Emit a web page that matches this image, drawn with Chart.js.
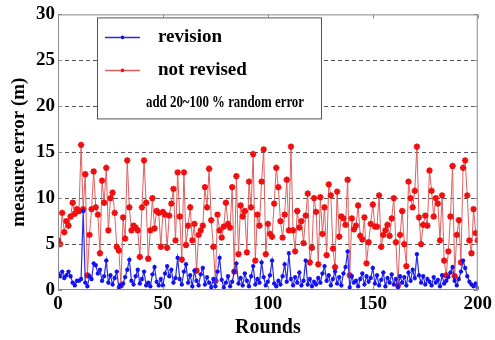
<!DOCTYPE html>
<html><head><meta charset="utf-8">
<script src="https://cdn.jsdelivr.net/npm/chart.js@4.4.1/dist/chart.umd.min.js"></script>
<style>html,body{margin:0;padding:0;background:#fff;}canvas{display:block;}</style>
</head><body>
<canvas id="c" width="495" height="340"></canvas>
<script>
const seriesNames = ["revision", "not revised"];
const noteText = "add 20~100 % random error";
const xTicks = [0, 50, 100, 150, 200];
const yTicks = [0, 5, 10, 15, 20, 25, 30];
const revision = [1.8,1.5,2.0,1.3,1.6,2.0,1.5,0.8,0.5,1.0,1.0,1.2,8.6,0.8,0.4,1.5,1.2,2.9,2.7,1.8,2.2,1.0,1.5,3.2,0.8,1.6,0.6,1.3,2.0,0.3,0.5,0.7,1.4,2.2,3.3,1.0,0.6,1.5,2.2,0.7,1.2,2.0,0.5,0.8,0.4,1.7,2.5,0.9,0.5,1.2,0.5,1.8,2.6,1.5,2.2,0.8,1.3,3.5,1.2,0.6,2.0,2.8,0.8,1.6,0.4,2.1,1.0,0.5,1.7,2.4,0.6,1.4,0.8,0.3,1.2,0.4,2.0,3.5,1.1,0.3,0.8,1.5,0.4,0.9,2.0,2.9,0.7,1.3,0.5,1.8,1.0,0.4,1.5,2.6,0.6,1.2,0.8,3.0,1.4,0.5,0.9,1.6,3.2,0.7,0.4,1.0,0.6,1.5,2.8,0.9,4.0,1.2,0.5,1.4,0.8,1.9,0.5,1.0,3.2,0.6,1.2,0.4,0.9,0.6,1.3,0.8,1.8,2.6,1.0,1.6,0.5,1.2,2.0,0.7,1.4,0.5,1.8,2.5,4.2,0.3,1.5,0.8,1.0,0.4,1.2,1.8,0.6,1.5,0.9,1.3,2.4,0.7,1.6,0.5,1.1,1.9,0.4,1.3,0.8,1.7,0.6,1.2,0.3,1.5,0.8,1.4,0.5,1.9,1.0,2.2,1.3,3.9,1.6,0.8,1.5,0.6,1.2,0.9,0.5,1.4,0.8,1.1,0.4,1.6,0.7,1.0,1.4,1.9,2.5,1.0,0.5,1.2,2.0,3.2,2.4,1.5,0.9,0.6,0.4,0.7,0.3];
const notRevised = [5.4,5.0,8.4,6.3,7.5,7.0,8.0,9.5,8.3,8.8,8.6,15.8,8.8,12.6,1.6,6.0,8.8,12.9,9.0,8.2,4.0,11.9,9.5,13.3,6.5,10.0,10.6,8.4,4.7,4.3,0.5,7.9,5.6,14.1,9.0,6.5,7.0,6.8,6.5,3.6,9.0,14.1,9.5,3.4,6.5,10.0,6.7,8.6,8.4,4.7,8.5,8.2,4.6,8.1,9.4,11.0,5.4,12.8,8.0,3.3,12.8,4.9,7.0,9.0,5.4,7.2,2.1,6.0,6.5,7.0,11.2,9.0,13.2,7.6,4.7,1.0,8.2,6.5,5.7,6.9,9.5,7.2,6.8,11.2,2.0,12.4,3.9,9.2,8.0,8.6,4.1,11.8,9.0,14.8,3.2,8.2,7.0,11.8,15.3,3.9,7.2,6.1,5.8,9.4,13.3,11.2,7.5,5.7,8.2,12.0,6.5,15.6,6.5,4.2,8.6,6.8,7.5,5.1,8.1,10.5,3.0,4.6,10.0,8.5,2.8,10.1,6.1,9.0,3.8,11.5,10.3,4.5,2.5,10.7,5.8,8.0,7.8,7.1,12.0,1.6,7.8,6.6,7.0,9.2,5.9,5.5,7.9,2.9,5.2,7.2,9.3,6.9,6.9,10.3,4.7,6.0,6.5,7.1,5.9,7.8,10.0,5.2,0.5,6.0,8.6,5.0,2.6,11.8,10.0,9.0,10.8,15.6,7.9,5.0,7.1,8.1,7.0,13.0,10.8,8.0,10.0,9.4,5.4,10.3,3.2,1.6,4.2,8.0,13.5,1.5,6.0,7.6,3.0,13.3,14.1,10.3,5.4,4.0,8.8,6.2,5.4];

const toXY = arr => arr.map((v, i) => ({x: i, y: v}));
const FONT = "'Liberation Serif', 'Times New Roman', serif";

const framePlugin = {
  id: 'frame',
  beforeDatasetsDraw(chart) {
    const {ctx, chartArea: a} = chart;
    const ys = chart.scales.y;
    ctx.save();
    ctx.strokeStyle = '#555';
    ctx.lineWidth = 1;
    ctx.setLineDash([4, 3]);
    ctx.beginPath();
    yTicks.slice(1, -1).forEach(t => {
      const py = Math.round(ys.getPixelForValue(t)) + 0.5;
      ctx.moveTo(a.left, py); ctx.lineTo(a.right, py);
    });
    ctx.stroke();
    ctx.restore();
  },
  afterDatasetsDraw(chart) {
    const {ctx, chartArea: a} = chart;
    ctx.save();
    ctx.strokeStyle = '#8a8a8a';
    ctx.lineWidth = 1;
    ctx.strokeRect(a.left + 0.5, a.top + 0.5, a.right - a.left - 1, a.bottom - a.top - 1);
    const xs = chart.scales.x, ys = chart.scales.y;
    ctx.beginPath();
    xTicks.forEach(t => {
      const px = Math.round(xs.getPixelForValue(t)) + 0.5;
      ctx.moveTo(px, a.top); ctx.lineTo(px, a.top + 4);
      ctx.moveTo(px, a.bottom); ctx.lineTo(px, a.bottom - 4);
    });
    yTicks.forEach(t => {
      const py = Math.round(ys.getPixelForValue(t)) + 0.5;
      ctx.moveTo(a.left, py); ctx.lineTo(a.left + 4, py);
      ctx.moveTo(a.right, py); ctx.lineTo(a.right - 4, py);
    });
    ctx.stroke();
    // legend box
    const bx = a.left + 39, by = a.top + 3, bw = 224, bh = 101;
    ctx.fillStyle = '#fff';
    ctx.fillRect(bx, by, bw, bh);
    ctx.strokeStyle = '#555';
    ctx.strokeRect(bx + 0.5, by + 0.5, bw, bh);
    const ds = chart.data.datasets;
    ctx.textBaseline = 'middle';
    ctx.fillStyle = '#000';
    const rows = [by + 20, by + 53];
    ds.forEach((d, i) => {
      const y = rows[i];
      ctx.strokeStyle = d.borderColor; ctx.lineWidth = 1.5;
      ctx.beginPath(); ctx.moveTo(bx + 8, y); ctx.lineTo(bx + 43, y); ctx.stroke();
      ctx.fillStyle = d.pointBorderColor; ctx.beginPath(); ctx.arc(bx + 25.5, y, 1.8, 0, Math.PI * 2); ctx.fill();
      ctx.fillStyle = '#000';
      ctx.font = "bold 19px " + FONT;
      ctx.fillText(d.label, bx + 61, y);
    });
    ctx.font = "bold 17px " + FONT;
    ctx.fillText(noteText, bx + 49, by + 85, 158);
    ctx.restore();
  }
};

new Chart(document.getElementById('c'), {
  type: 'line',
  data: {
    datasets: [
      { label: seriesNames[0], data: toXY(revision), borderColor: '#2a2ae6', borderWidth: 1.2,
        pointStyle: 'star', pointRadius: 2.2, pointBorderColor: '#1010f0', pointBackgroundColor: '#1010f0',
        pointBorderWidth: 1.2, tension: 0 },
      { label: seriesNames[1], data: toXY(notRevised), borderColor: '#e06060', borderWidth: 1,
        pointStyle: 'star', pointRadius: 3.2, pointBorderColor: '#ee1010', pointBackgroundColor: '#ee1010',
        pointBorderWidth: 1.8, tension: 0 }
    ]
  },
  options: {
    responsive: false, animation: false, devicePixelRatio: 1,
    layout: { padding: { left: 0, right: 17, top: 14, bottom: 0 } },
    plugins: { legend: { display: false }, tooltip: { enabled: false } },
    scales: {
      x: {
        type: 'linear', min: 0, max: 200,
        afterBuildTicks: s => { s.ticks = xTicks.map(v => ({value: v})); },
        afterFit: s => { s.height = 50; },
        grid: { display: false, drawTicks: false },
        border: { display: false },
        ticks: { color: '#000', font: { family: FONT, size: 19, weight: 'bold' }, padding: 3, maxRotation: 0 },
        title: { display: true, text: 'Rounds', color: '#000', font: { family: FONT, size: 20, weight: 'bold' }, padding: { top: -6, bottom: 0 } }
      },
      y: {
        min: 0, max: 30,
        afterBuildTicks: s => { s.ticks = yTicks.map(v => ({value: v})); },
        afterFit: s => { s.width = 58; },
        grid: { display: false, drawTicks: false },
        border: { display: false },
        ticks: { color: '#000', font: { family: FONT, size: 19, weight: 'bold' }, padding: 3 },
        title: { display: true, text: 'measure error (m)', color: '#000', font: { family: FONT, size: 19, weight: 'bold' }, padding: { top: 8, bottom: 0 } }
      }
    }
  },
  plugins: [framePlugin]
});
</script>
</body></html>
